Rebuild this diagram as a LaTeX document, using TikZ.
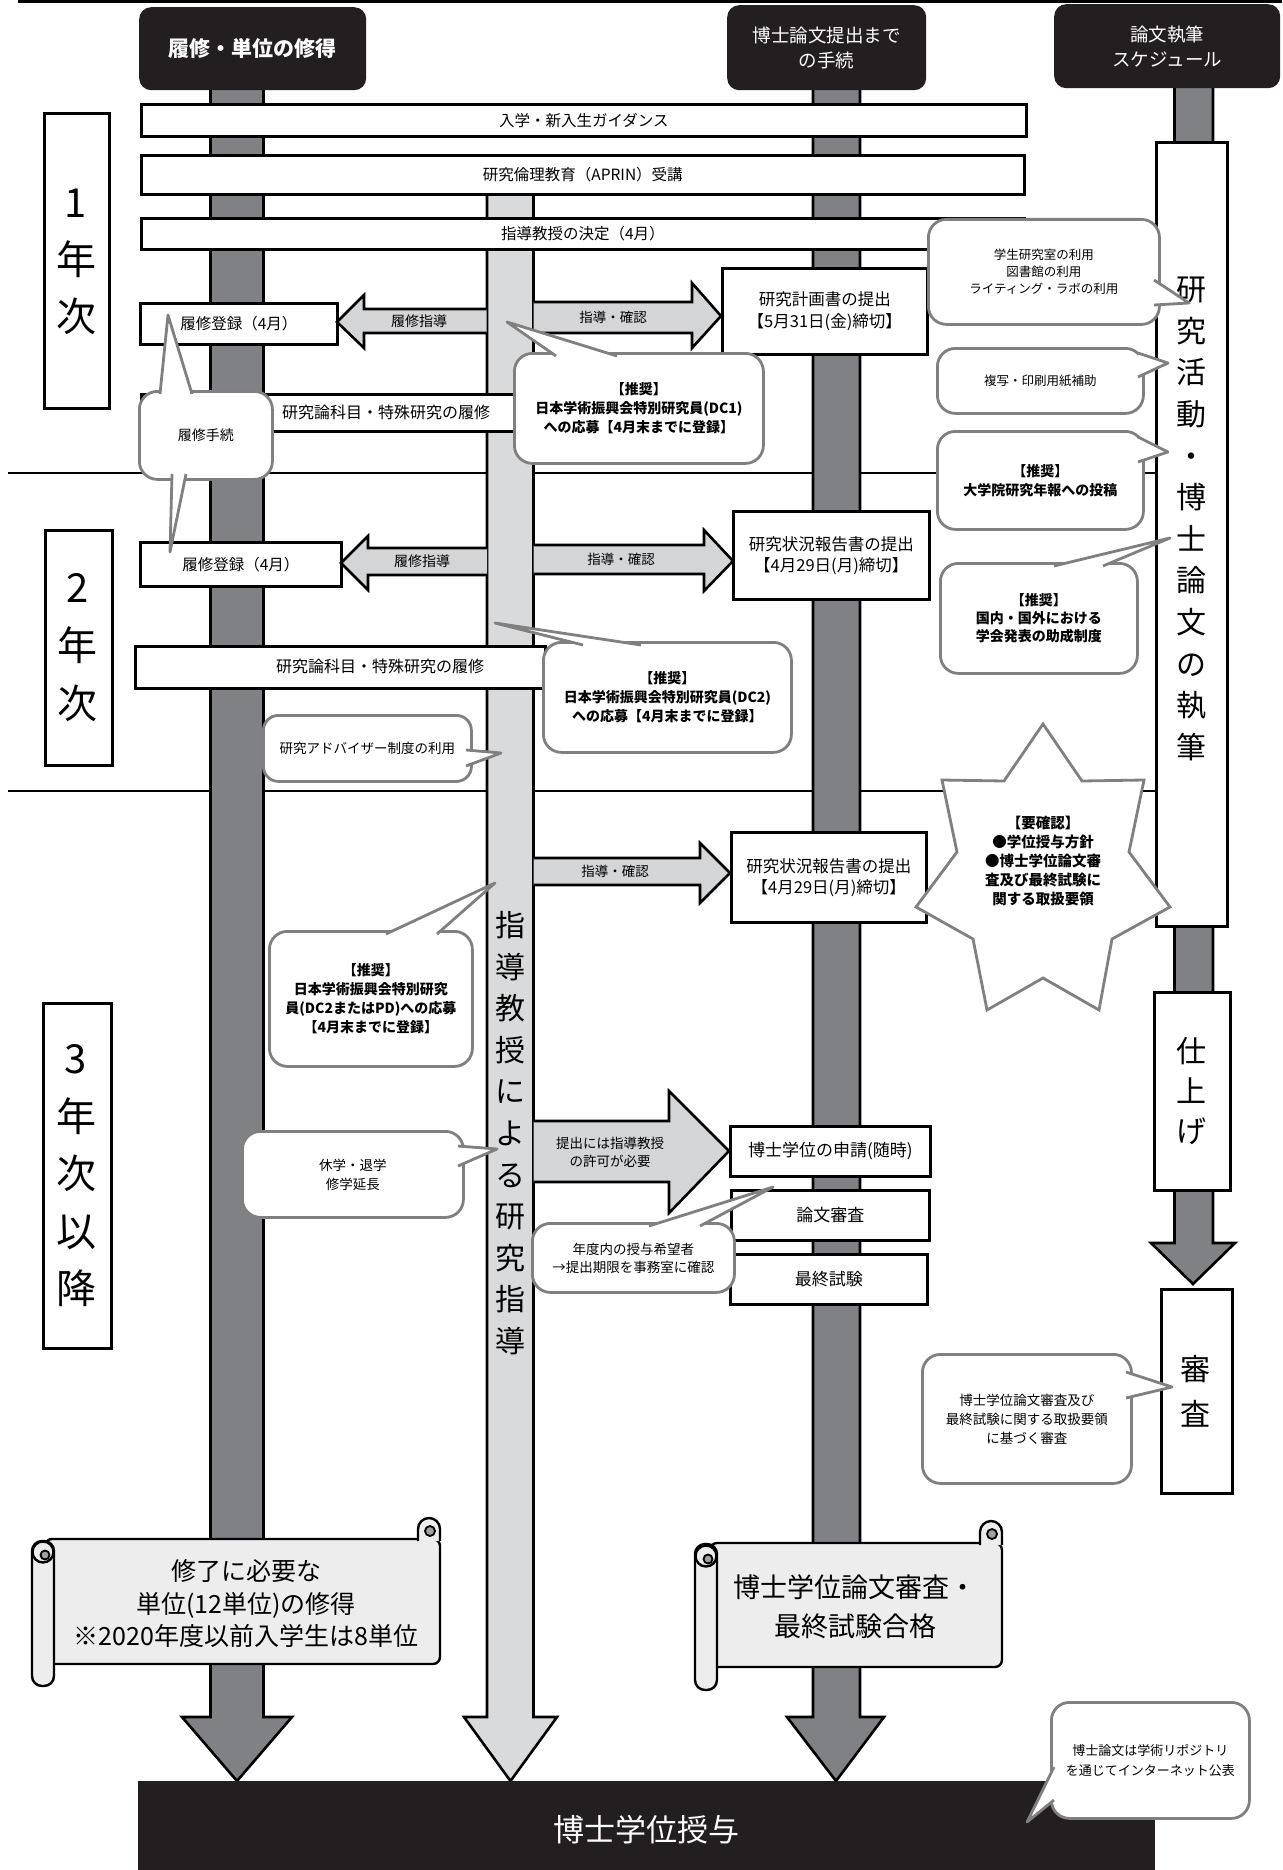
\documentclass[tikz,border=0pt]{standalone}
\usepackage{fontspec}
\setmainfont{Noto Sans CJK JP}
\definecolor{colD}{HTML}{808184}
\definecolor{colL}{HTML}{D9DADB}
\definecolor{arrL}{HTML}{D4D5D7}
\definecolor{bubG}{HTML}{808080}
\definecolor{scrF}{HTML}{EDEDED}
\definecolor{curlG}{HTML}{A0A0A0}
\definecolor{hdrK}{HTML}{231F20}
\newcommand\fs[2]{\fontsize{#1}{#2}\selectfont}
\begin{document}
\begin{tikzpicture}[x=1pt,y=-1pt,
  sz/.style 2 args={minimum width=#1pt, minimum height=#2pt},
  hdr/.style={fill=hdrK, rounded corners=12pt, text=white, inner sep=0pt, align=center, anchor=north west},
  wbox/.style={draw=black, line width=2.6pt, fill=white, inner sep=0pt, align=center, anchor=north west},
  bubble/.style={draw=bubG, line width=2.8pt, fill=white, rounded corners=18pt, inner sep=0pt, align=center, anchor=north west},
  ptr/.style={draw=bubG, line width=2.8pt, fill=white, line join=round},
  coldark/.style={fill=colD, draw=black, line width=2.6pt, line join=miter},
  collight/.style={fill=colL, draw=black, line width=2.6pt, line join=miter},
  barrow/.style={fill=arrL, draw=black, line width=2.6pt, line join=miter},
  lbl/.style={inner sep=0pt, align=center},
  scr/.style={fill=scrF, draw=black, line width=2.4pt},
  crl/.style={fill=curlG, draw=black, line width=1.8pt},
  divider/.style={draw=black, line width=2.6pt},
]
\fill[white] (0,0) rectangle (1282,1870);
\useasboundingbox (0,0) rectangle (1282,1870);

% top rule and year dividers
\coordinate (t0) at (18,1.5); \coordinate (t1) at (1282,1.5);
\draw[line width=3pt] (t0) -- (t1);
\coordinate (d1a) at (8,473); \coordinate (d1b) at (1155,473);
\coordinate (d2a) at (8,791); \coordinate (d2b) at (1155,791);
\draw[divider] (d1a) -- (d1b);
\draw[divider] (d2a) -- (d2b);

% columns
\path[coldark] (210.5,80) -- (210.5,1717) -- (182,1717) -- (237,1781) -- (292,1717) -- (263.5,1717) -- (263.5,80) -- cycle;
\path[collight] (487,175) -- (487,1717) -- (464,1717) -- (510.5,1781) -- (557,1717) -- (533.5,1717) -- (533.5,175) -- cycle;
\path[coldark] (813,80) -- (813,1717) -- (787,1717) -- (836,1781) -- (884,1717) -- (860,1717) -- (860,80) -- cycle;
\path[coldark] (1174.5,80) -- (1174.5,1243) -- (1151,1243) -- (1193,1284) -- (1235,1243) -- (1213,1243) -- (1213,80) -- cycle;
\node[lbl, font=\fs{30}{41.6}] (guide) at (510,1133) {指\\導\\教\\授\\に\\よ\\る\\研\\究\\指\\導};

% right column boxes
\node[wbox, sz={71}{784}] (write) at (1155,141) {};
\node[lbl, font=\fs{30}{41.6}] (writetxt) at (1191,519) {研\\究\\活\\動\\・\\博\\士\\論\\文\\の\\執\\筆};
\node[wbox, sz={76}{198}] (finish) at (1153,991) {};
\node[lbl, font=\fs{30}{40}] (finishtxt) at (1191,1091) {仕\\上\\げ};
\node[wbox, sz={71}{204}] (exam) at (1160,1288) {};
\node[lbl, font=\fs{30}{45}] (examtxt) at (1195,1391) {審\\査};

% headers
\node[hdr, sz={227}{83}, font=\fs{21}{25}\bfseries] (h1) at (139,7) {履修・単位の修得};
\node[hdr, sz={199}{85}, font=\fs{18.5}{25}] (h2) at (727,5) {博士論文提出まで\\の手続};
\node[hdr, sz={226}{84}, font=\fs{18.5}{25}] (h3) at (1054,4) {論文執筆\\スケジュール};

% wide bars
\node[wbox, sz={885}{32}, font=\fs{15.5}{19}] (g1) at (140,103) {入学・新入生ガイダンス};
\node[wbox, sz={883}{39}, font=\fs{15.5}{19}] (g2) at (140,154) {研究倫理教育（APRIN）受講};
\node[wbox, sz={883}{31}, font=\fs{15.5}{19}] (g3) at (140,217) {指導教授の決定（4月）};
\node[wbox, sz={380}{37}] (k1) at (140,393) {};
\node[lbl, font=\fs{16}{19}] (k1txt) at (386,412) {研究論科目・特殊研究の履修};
\node[wbox, sz={410}{42}] (k2) at (134,645) {};
\node[lbl, font=\fs{16}{19}] (k2txt) at (380,666) {研究論科目・特殊研究の履修};

% boxes
\node[wbox, sz={197}{41}, font=\fs{15.5}{19}] (r1) at (139,302) {履修登録（4月）};
\node[wbox, sz={201}{44}, font=\fs{15.5}{19}] (r2) at (139,541) {履修登録（4月）};
\node[wbox, sz={205}{86}, font=\fs{16.5}{22}] (p1) at (721,267) {研究計画書の提出\\【5月31日(金)締切】};
\node[wbox, sz={196}{88}, font=\fs{16.5}{21}] (p2) at (732,510) {研究状況報告書の提出\\【4月29日(月)締切】};
\node[wbox, sz={195}{90}, font=\fs{16.5}{21}] (p3) at (730,831) {研究状況報告書の提出\\【4月29日(月)締切】};
\node[wbox, sz={200}{50}, font=\fs{17}{20}] (p4) at (729,1125) {博士学位の申請(随時)};
\node[wbox, sz={198}{50}, font=\fs{17}{20}] (p5) at (730,1189) {論文審査};
\node[wbox, sz={197}{50}, font=\fs{17}{20}] (p6) at (729,1253) {最終試験};

% block arrows
\path[barrow] (486.5,309) -- (364,309) -- (364,295) -- (337,322) -- (364,348) -- (364,333) -- (486.5,333);
\node[lbl, font=\fs{14}{17}] (a1) at (419,321) {履修指導};
\path[barrow] (533.5,302) -- (692,302) -- (692,283) -- (721,316) -- (692,348) -- (692,333) -- (533.5,333);
\node[lbl, font=\fs{13.5}{17}] (a2) at (613,317) {指導・確認};
\path[barrow] (487,548) -- (368,548) -- (368,536) -- (341,563) -- (368,590) -- (368,575) -- (487,575);
\node[lbl, font=\fs{14}{17}] (a3) at (422,561) {履修指導};
\path[barrow] (533.5,545) -- (704,545) -- (704,530) -- (733,561) -- (704,591) -- (704,574) -- (533.5,574);
\node[lbl, font=\fs{13.5}{17}] (a4) at (621,559) {指導・確認};
\path[barrow] (533.5,858) -- (700,858) -- (700,843) -- (730,873) -- (700,903) -- (700,885) -- (533.5,885);
\node[lbl, font=\fs{13.5}{17}] (a5) at (615,871) {指導・確認};
\path[barrow] (533.5,1121) -- (669,1121) -- (669,1091) -- (729,1151) -- (669,1213) -- (669,1182) -- (533.5,1182);
\node[lbl, font=\fs{13.5}{18}] (a6) at (610,1152) {提出には指導教授\\の許可が必要};

% year boxes
\node[wbox, sz={65}{295}] (y1) at (43,112) {};
\node[lbl, font=\fs{40}{57}] (y1txt) at (76,262) {1\\年\\次};
\node[wbox, sz={67}{235}] (y2) at (44,529) {};
\node[lbl, font=\fs{40}{58}] (y2txt) at (77.5,648) {2\\年\\次};
\node[wbox, sz={68}{345}] (y3) at (42,1002) {};
\node[lbl, font=\fs{40}{57.5}] (y3txt) at (76,1176) {3\\年\\次\\以\\降};

% callouts
\node[bubble, sz={133}{88}, font=\fs{14}{18}] (bT) at (138,390) {履修手続};
\path[ptr] (160,394) -- (168,315) -- (192,394);
\path[ptr] (172,474) -- (170,552) -- (186,474);

\node[bubble, sz={249}{110}, font=\fs{14}{19}\bfseries] (bD1) at (513,352) {【推奨】\\日本学術振興会特別研究員(DC1)\\への応募【4月末までに登録】};
\path[ptr] (556,356) -- (507,322) -- (617,356);

\node[bubble, sz={248}{110}, font=\fs{14}{19}\bfseries] (bD2) at (542,641) {【推奨】\\日本学術振興会特別研究員(DC2)\\への応募【4月末までに登録】};
\path[ptr] (583,645) -- (495,623) -- (641,645);

\node[bubble, rounded corners=15pt, sz={208}{66}, font=\fs{13.5}{17}] (bAd) at (262,714) {研究アドバイザー制度の利用};
\path[ptr] (466,750) -- (501,753) -- (466,766);

\node[bubble, sz={203}{135}, font=\fs{14}{19}\bfseries] (bPD) at (268,930) {【推奨】\\日本学術振興会特別研究\\員(DC2またはPD)への応募\\【4月末までに登録】};
\path[ptr] (386,934) -- (495,883) -- (437,934);

\node[bubble, sz={221}{86}, font=\fs{13.5}{19}] (bKY) at (241,1130) {休学・退学\\修学延長};
\path[ptr] (458,1146) -- (497,1149) -- (458,1166);

\node[bubble, sz={202}{69}, font=\fs{13.5}{18}] (bND) at (531,1222) {年度内の授与希望者\\→提出期限を事務室に確認};
\path[ptr] (649,1226) -- (773,1187) -- (700,1226);

\node[bubble, sz={231}{105}, font=\fs{12.5}{17}] (bGK) at (927,218) {学生研究室の利用\\図書館の利用\\ライティング・ラボの利用};
\path[ptr] (1154,280) -- (1189,303) -- (1154,305);

\node[bubble, sz={206}{65}, font=\fs{12.5}{17}] (bFK) at (936,347) {複写・印刷用紙補助};
\path[ptr] (1138,353) -- (1168,363) -- (1138,377);

\node[bubble, sz={206}{98}, font=\fs{14}{19}\bfseries] (bNH) at (936,430) {【推奨】\\大学院研究年報への投稿};
\path[ptr] (1138,437) -- (1168,452) -- (1138,462);

\node[bubble, sz={197}{110}, font=\fs{14}{18}\bfseries] (bKK) at (939,562) {【推奨】\\国内・国外における\\学会発表の助成制度};
\path[ptr] (1054,566) -- (1170,538) -- (1103,566);

\node[bubble, sz={209}{129}, font=\fs{13.5}{19}] (bSS) at (921,1353) {博士学位論文審査及び\\最終試験に関する取扱要領\\に基づく審査};
\path[ptr] (1126,1372) -- (1172,1387) -- (1126,1398);

% star
\path[draw=bubG, line width=2.8pt, fill=white, line join=miter] (1043,724) -- (1082,781) -- (1144,780) -- (1129,852) -- (1170,907) -- (1112,939) -- (1099,1010) -- (1043,978) -- (987,1010) -- (973,939) -- (916,907) -- (957,852) -- (942,780) -- (1004,781) -- cycle;
\node[lbl, font=\fs{14.5}{18.8}\bfseries] (star) at (1043,861) {【要確認】\\●学位授与方針\\●博士学位論文審\\査及び最終試験に\\関する取扱要領};

% scroll 1
\path[scr, rounded corners=7pt] (45,1539) rectangle (440,1664);
\path[scr] (418,1541) -- (418,1529) arc[start angle=180, end angle=360, radius=11] -- (440,1541);
\path[crl] (430,1531) circle[radius=5];
\path[scr, rounded corners=10pt] (32,1541) rectangle (54,1686);
\path[scr] (43,1552) circle[radius=10.5];
\path[crl] (45,1555) circle[radius=4.5];
\node[lbl, font=\fs{25}{32.5}] (s1) at (246,1604) {修了に必要な\\単位(12単位)の修得\\※2020年度以前入学生は8単位};

% scroll 2
\path[scr, rounded corners=7pt] (710,1543) rectangle (1002,1667);
\path[scr] (980,1545) -- (980,1532) arc[start angle=180, end angle=360, radius=11] -- (1002,1545);
\path[crl] (992,1534) circle[radius=5];
\path[scr, rounded corners=10pt] (695,1544) rectangle (717,1690);
\path[scr] (706,1556) circle[radius=10.5];
\path[crl] (708,1559) circle[radius=4.5];
\node[lbl, font=\fs{27}{39}] (s2) at (855,1607) {博士学位論文審査・\\最終試験合格};

% final box
\node[fill=hdrK, inner sep=0pt, anchor=north west, sz={1017}{96}, text=white, font=\fs{31}{36}] (award) at (138,1781) {博士学位授与};

\node[bubble, sz={198}{116}, font=\fs{13}{20}] (bRP) at (1050,1701) {博士論文は学術リポジトリ\\を通じてインターネット公表};
\path[ptr] (1054,1767) -- (1027,1822) -- (1054,1800);
\end{tikzpicture}
\end{document}
